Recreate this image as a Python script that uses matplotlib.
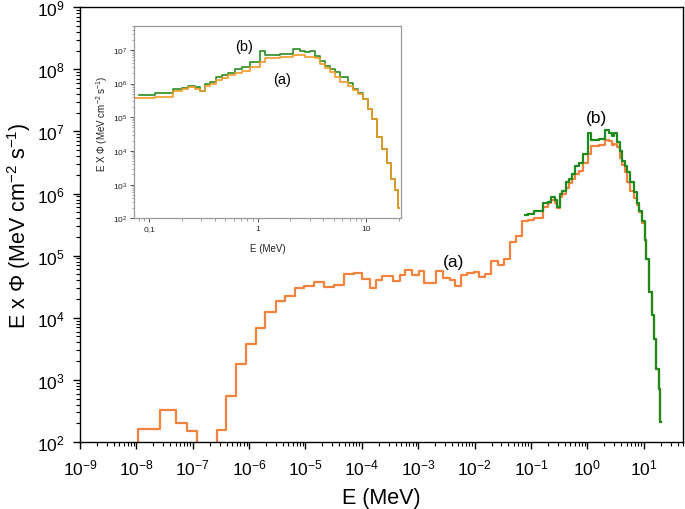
import numpy as np
import matplotlib
matplotlib.use('Agg')
import matplotlib.pyplot as plt
from matplotlib.ticker import LogLocator, NullFormatter, FixedLocator, FixedFormatter

plt.rcParams['font.family'] = ['Liberation Sans', 'DejaVu Sans']
plt.rcParams['mathtext.fontset'] = 'custom'
plt.rcParams['mathtext.rm'] = 'Liberation Sans'
plt.rcParams['mathtext.it'] = 'Liberation Sans:italic'

# bin edges (MeV) below 0.07 MeV, only curve (a) has data there
E_EDGES_LOW = [1.06e-8, 2.64e-8, 4.97e-8, 7.96e-8, 1.20e-7, 2.66e-7, 3.87e-7, 5.78e-7,
               8.77e-7, 1.32e-6, 1.95e-6, 2.99e-6, 4.32e-6, 6.51e-6, 9.5e-6, 1.43e-5,
               2.16e-5, 3.25e-5, 4.75e-5, 7.15e-5, 1.01e-4, 1.38e-4, 1.81e-4, 2.29e-4,
               3.58e-4, 4.69e-4, 5.93e-4, 7.80e-4, 1.02e-3, 1.25e-3, 2.08e-3, 2.77e-3,
               3.62e-3, 4.58e-3, 5.78e-3, 7.39e-3, 9.68e-3, 1.22e-2, 1.56e-2, 1.97e-2,
               2.62e-2, 3.40e-2, 4.22e-2, 5.55e-2]
# (a) flux in each low bin; the 1.2e-7..2.66e-7 bin is empty (drawn below the axis floor)
FLUX_A_LOW = [159, 327, 202, 153, 10, 157, 550, 1820, 3730, 6900,
              1.25e4, 1.88e4, 2.24e4, 3.01e4, 3.28e4, 3.80e4, 3.09e4, 3.37e4, 5.06e4, 5.25e4,
              4.20e4, 3.01e4, 4.05e4, 4.75e4, 3.86e4, 4.87e4, 5.93e4, 4.92e4, 5.75e4, 3.58e4,
              5.71e4, 4.31e4, 4.05e4, 3.28e4, 4.87e4, 5.25e4, 5.51e4, 4.47e4, 5.06e4, 8.19e4,
              7.05e4, 8.81e4, 1.64e5, 2.09e5]

# bin edges (MeV) from 0.07 to 20 MeV
E_EDGES_HIGH = [0.070, 0.080, 0.088, 0.113, 0.166, 0.199, 0.229, 0.264, 0.293, 0.326,
                0.363, 0.412, 0.465, 0.535, 0.616, 0.711, 0.848, 1.05, 1.16, 1.60,
                2.10, 2.45, 2.72, 3.03, 3.37, 3.74, 4.16, 4.63, 5.14, 5.72,
                6.82, 7.59, 8.44, 9.38, 10.4, 11.2, 12.5, 13.9, 15.4, 16.8,
                18.4, 19.6, 20.0]
FLUX_A_HIGH = [3.63e5, 3.63e5, 3.80e5, 3.98e5, 6.17e5, 6.92e5, 7.76e5, 6.92e5, 5.89e5, 8.71e5,
               9.77e5, 1.23e6, 1.45e6, 1.74e6, 2.09e6, 2.29e6, 3.09e6, 4.27e6, 5.75e6, 6.03e6,
               7.24e6, 6.92e6, 6.03e6, 6.31e6, 5.62e6, 3.72e6, 2.88e6, 2.19e6, 1.55e6, 1.10e6,
               8.32e5, 6.61e5, 5.01e5, 3.39e5, 1.78e5, 8.91e4, 2.57e4, 1.12e4, 4.47e3, 1.48e3,
               708, 209]
# (b) starts at 0.08 MeV (second high edge)
FLUX_B = [4.57e5, 4.68e5, 5.19e5, 6.92e5, 7.41e5, 8.71e5, 7.76e5, 6.17e5, 9.77e5,
          1.10e6, 1.55e6, 1.74e6, 2.04e6, 2.75e6, 3.09e6, 4.27e6, 9.55e6, 7.24e6, 7.59e6,
          1.07e7, 9.55e6, 8.51e6, 9.55e6, 6.76e6, 4.79e6, 3.39e6, 2.75e6, 2.19e6, 1.55e6,
          1.05e6, 7.08e5, 5.25e5, 3.55e5, 1.78e5, 8.91e4, 2.57e4, 1.12e4, 4.47e3, 1.48e3,
          708, 209]

ORANGE = '#F4823F'
ORANGE_IN = '#F29A26'
GREEN = '#1C8A1C'
GREEN_IN = '#2A8C22'


def step_xy(edges, vals, floor=None):
    edges = np.asarray(edges, dtype=float)
    vals = np.asarray(vals, dtype=float)
    x = edges
    y = np.r_[vals, vals[-1]]
    if floor is not None:
        x = np.r_[edges[0], x]
        y = np.r_[floor, y]
    return x, y


edges_a = E_EDGES_LOW + E_EDGES_HIGH
flux_a = FLUX_A_LOW + FLUX_A_HIGH
xa, ya = step_xy(edges_a, flux_a, floor=10)
xb, yb = step_xy(E_EDGES_HIGH[1:], FLUX_B)
xa_hi, ya_hi = step_xy(E_EDGES_HIGH, FLUX_A_HIGH)

fig = plt.figure(figsize=(6.85, 5.10), dpi=100)

# --- main axes ---
ax = fig.add_axes([0.1168, 0.1314, 0.8803, 0.8526])
ax.step(xa, ya, where='post', color=ORANGE, lw=1.6)
ax.step(xb, yb, where='post', color=GREEN, lw=1.6)
ax.set_xscale('log')
ax.set_yscale('log')
ax.set_xlim(1e-9, 50)
ax.set_ylim(1e2, 1e9)
ax.xaxis.set_major_locator(LogLocator(base=10, numticks=30))
ax.xaxis.set_minor_locator(LogLocator(base=10, subs=np.arange(2, 10), numticks=100))
ax.yaxis.set_major_locator(LogLocator(base=10, numticks=30))
ax.yaxis.set_minor_locator(LogLocator(base=10, subs=np.arange(2, 10), numticks=100))
ax.xaxis.set_minor_formatter(NullFormatter())
ax.yaxis.set_minor_formatter(NullFormatter())
ax.tick_params(which='major', direction='out', length=5, width=1, labelsize=12.5, pad=6)
ax.tick_params(which='minor', direction='out', length=3, width=0.8)
for s in ax.spines.values():
    s.set_linewidth(1.0)
ax.set_xlabel('E (MeV)', fontsize=15.5, labelpad=7)
ax.set_ylabel(r'E x $\Phi$ (MeV cm$^{-2}$ s$^{-1}$)', fontsize=15.5, labelpad=3)
ax.text(4.2e-3, 8.1e4, '(a)', fontsize=12.5, ha='center', va='center')
ax.text(1.46, 1.7e7, '(b)', fontsize=12.5, ha='center', va='center')

# --- inset ---
ax2 = fig.add_axes([0.196, 0.570, 0.389, 0.3765])
ax2.step(xb, yb, where='post', color=GREEN_IN, lw=1.2)
ax2.step(xa_hi, ya_hi, where='post', color=ORANGE_IN, lw=1.2)
ax2.set_xscale('log')
ax2.set_yscale('log')
ax2.set_xlim(0.073, 20.7)
ax2.set_ylim(1e2, 5e7)
ax2.xaxis.set_major_locator(FixedLocator([0.1, 1, 10]))
ax2.xaxis.set_major_formatter(FixedFormatter(['0,1', '1', '10']))
ax2.xaxis.set_minor_locator(LogLocator(base=10, subs=np.arange(2, 10), numticks=100))
ax2.xaxis.set_minor_formatter(NullFormatter())
ax2.yaxis.set_major_locator(LogLocator(base=10, numticks=30))
ax2.yaxis.set_minor_locator(LogLocator(base=10, subs=np.arange(2, 10), numticks=100))
ax2.yaxis.set_minor_formatter(NullFormatter())
ax2.tick_params(which='major', direction='out', length=3, width=0.7, labelsize=6,
                colors='#555555', labelcolor='#222222', pad=2)
ax2.tick_params(which='minor', direction='out', length=1.8, width=0.5, colors='#777777')
for s in ax2.spines.values():
    s.set_color('#9a9a9a')
    s.set_linewidth(0.9)
ax2.set_xlabel('E (MeV)', fontsize=7, labelpad=8, color='#222222')
ax2.set_ylabel(r'E X $\Phi$ (MeV cm$^{-2}$ s$^{-1}$)', fontsize=7, labelpad=2, color='#222222')
ax2.text(0.746, 1.34e7, '(b)', fontsize=10.5, ha='center', va='center')
ax2.text(1.66, 1.38e6, '(a)', fontsize=10.5, ha='center', va='center')

fig.savefig('out.png', dpi=100)
